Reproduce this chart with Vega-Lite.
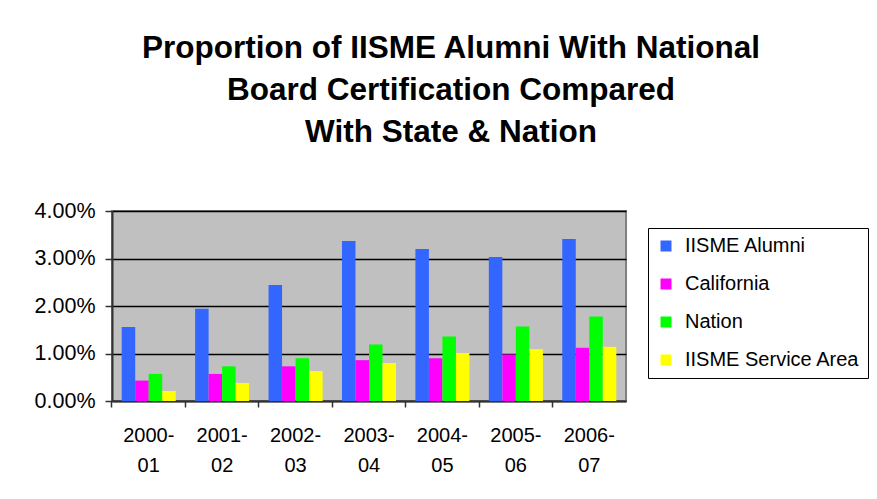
{
  "$schema": "https://vega.github.io/schema/vega-lite/v6.json",
  "width": 514,
  "height": 190,
  "autosize": "none",
  "padding": {"left": 112, "top": 211, "right": 251, "bottom": 98},
  "background": "white",
  "title": {
    "text": ["Proportion of IISME Alumni With National", "Board Certification Compared", "With State & Nation"],
    "font": "Liberation Sans",
    "fontSize": 31.5,
    "fontWeight": "bold",
    "color": "black",
    "lineHeight": 42,
    "anchor": "middle",
    "dx": 82,
    "offset": 52
  },
  "data": {
    "values": [
      {"year": "2000-01", "series": "IISME Alumni", "value": 0.0156},
      {"year": "2000-01", "series": "California", "value": 0.0043},
      {"year": "2000-01", "series": "Nation", "value": 0.0057},
      {"year": "2000-01", "series": "IISME Service Area", "value": 0.0021},
      {"year": "2001-02", "series": "IISME Alumni", "value": 0.0194},
      {"year": "2001-02", "series": "California", "value": 0.0057},
      {"year": "2001-02", "series": "Nation", "value": 0.0073},
      {"year": "2001-02", "series": "IISME Service Area", "value": 0.0038},
      {"year": "2002-03", "series": "IISME Alumni", "value": 0.0244},
      {"year": "2002-03", "series": "California", "value": 0.0073},
      {"year": "2002-03", "series": "Nation", "value": 0.0090},
      {"year": "2002-03", "series": "IISME Service Area", "value": 0.0063},
      {"year": "2003-04", "series": "IISME Alumni", "value": 0.0337},
      {"year": "2003-04", "series": "California", "value": 0.0086},
      {"year": "2003-04", "series": "Nation", "value": 0.0119},
      {"year": "2003-04", "series": "IISME Service Area", "value": 0.0080},
      {"year": "2004-05", "series": "IISME Alumni", "value": 0.0320},
      {"year": "2004-05", "series": "California", "value": 0.0090},
      {"year": "2004-05", "series": "Nation", "value": 0.0136},
      {"year": "2004-05", "series": "IISME Service Area", "value": 0.0101},
      {"year": "2005-06", "series": "IISME Alumni", "value": 0.0303},
      {"year": "2005-06", "series": "California", "value": 0.0098},
      {"year": "2005-06", "series": "Nation", "value": 0.0157},
      {"year": "2005-06", "series": "IISME Service Area", "value": 0.0109},
      {"year": "2006-07", "series": "IISME Alumni", "value": 0.0341},
      {"year": "2006-07", "series": "California", "value": 0.0112},
      {"year": "2006-07", "series": "Nation", "value": 0.0178},
      {"year": "2006-07", "series": "IISME Service Area", "value": 0.0114}
    ]
  },
  "mark": {"type": "bar"},
  "encoding": {
    "x": {
      "field": "year",
      "type": "nominal",
      "scale": {"paddingInner": 0.264, "paddingOuter": 0.132},
      "axis": {
        "title": null,
        "labelAngle": 0,
        "labelExpr": "[slice(datum.label, 0, 5), slice(datum.label, 5)]",
        "labelFont": "Liberation Sans",
        "labelFontSize": 20,
        "labelColor": "black",
        "labelLineHeight": 30,
        "labelBaseline": "top",
        "labelPadding": 18,
        "bandPosition": -0.18,
        "tickSize": 6,
        "tickColor": "#333333",
        "tickWidth": 1.5,
        "domainColor": "#333333",
        "domainWidth": 2,
        "grid": false
      }
    },
    "xOffset": {"field": "series", "type": "nominal", "sort": ["IISME Alumni", "California", "Nation", "IISME Service Area"], "scale": {"paddingInner": 0, "paddingOuter": 0}},
    "y": {
      "field": "value",
      "type": "quantitative",
      "scale": {"domain": [0, 0.04], "nice": false},
      "axis": {
        "title": null,
        "values": [0, 0.01, 0.02, 0.03, 0.04],
        "format": ".2%",
        "labelFont": "Liberation Sans",
        "labelFontSize": 21.5,
        "labelColor": "black",
        "labelPadding": 10,
        "tickSize": 7,
        "tickColor": "#333333",
        "tickWidth": 1.5,
        "domainColor": "#333333",
        "domainWidth": 2,
        "grid": true,
        "gridColor": "black",
        "gridWidth": 1.5
      }
    },
    "color": {
      "field": "series",
      "type": "nominal",
      "sort": ["IISME Alumni", "California", "Nation", "IISME Service Area"],
      "scale": {"domain": ["IISME Alumni", "California", "Nation", "IISME Service Area"], "range": ["#3366FF", "#FF00FF", "#00FF00", "#FFFF00"]},
      "legend": {
        "title": null,
        "orient": "none",
        "legendX": 536,
        "legendY": 17,
        "symbolType": "square",
        "symbolSize": 121,
        "symbolStrokeWidth": 0,
        "labelFont": "Liberation Sans",
        "labelFontSize": 20,
        "labelColor": "black",
        "labelOffset": 9,
        "rowPadding": 18,
        "padding": 8,
        "fillColor": "white",
        "strokeColor": "black",
        "labelLimit": 300
      }
    }
  },
  "config": {
    "view": {"fill": "#C0C0C0", "stroke": "#808080", "strokeWidth": 2},
    "axis": {"gridCap": "butt"}
  }
}
